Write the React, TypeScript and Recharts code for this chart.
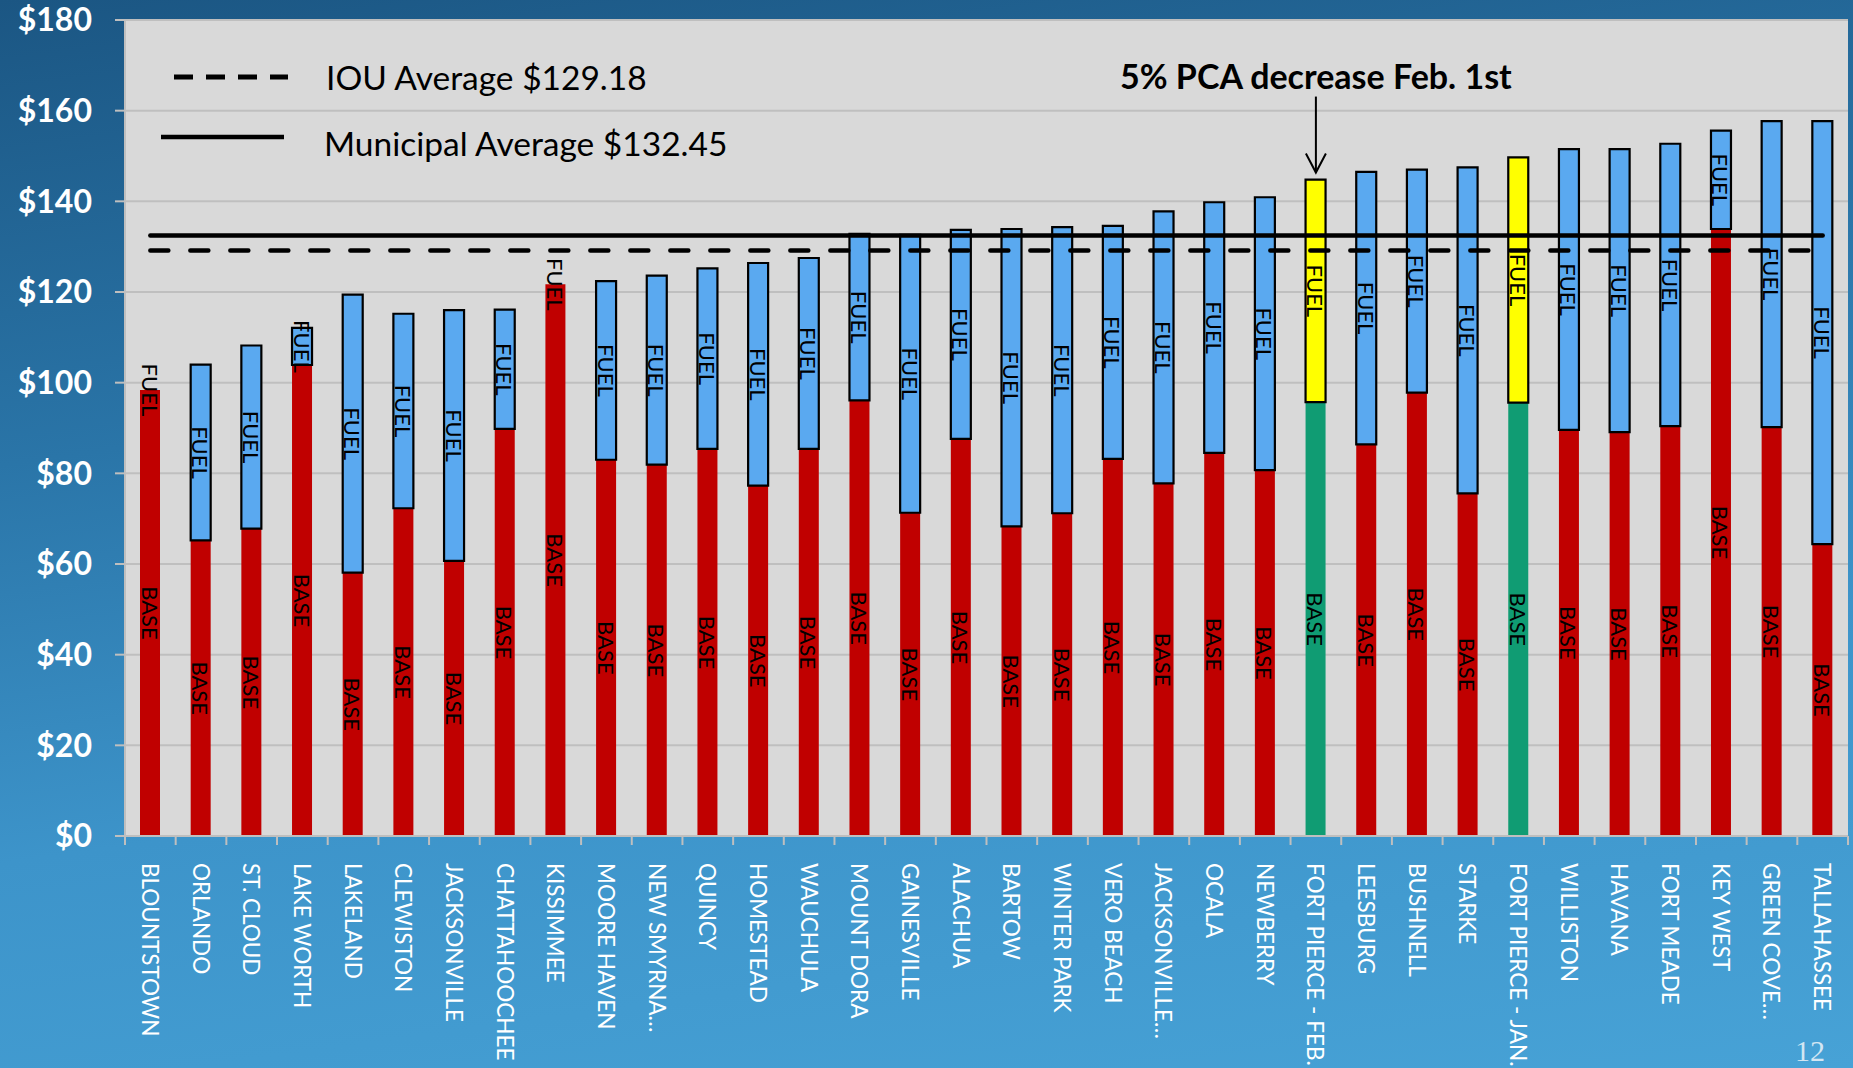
import React from "react";
import {
  ComposedChart,
  Bar,
  Line,
  XAxis,
  YAxis,
  CartesianGrid,
  Cell,
  LabelList,
  ReferenceDot,
} from "recharts";

const CITIES = [
  "BLOUNTSTOWN",
  "ORLANDO",
  "ST. CLOUD",
  "LAKE WORTH",
  "LAKELAND",
  "CLEWISTON",
  "JACKSONVILLE",
  "CHATTAHOOCHEE",
  "KISSIMMEE",
  "MOORE HAVEN",
  "NEW SMYRNA…",
  "QUINCY",
  "HOMESTEAD",
  "WAUCHULA",
  "MOUNT DORA",
  "GAINESVILLE",
  "ALACHUA",
  "BARTOW",
  "WINTER PARK",
  "VERO BEACH",
  "JACKSONVILLE…",
  "OCALA",
  "NEWBERRY",
  "FORT PIERCE - FEB.",
  "LEESBURG",
  "BUSHNELL",
  "STARKE",
  "FORT PIERCE - JAN.",
  "WILLISTON",
  "HAVANA",
  "FORT MEADE",
  "KEY WEST",
  "GREEN COVE…",
  "TALLAHASSEE",
];

// base charge per city ($)
const BASE = [
  98.4, 65.2, 67.8, 103.9, 58.1, 72.3, 60.7, 89.8, 121.7, 83.0, 81.9, 85.4,
  77.3, 85.4, 96.1, 71.3, 87.6, 68.3, 71.2, 83.2, 77.8, 84.5, 80.7, 95.7, 86.4,
  97.8, 75.6, 95.6, 89.6, 89.1, 90.4, 133.9, 90.2, 64.4,
];

// fuel charge per city ($)
const FUEL = [
  0, 38.8, 40.4, 8.2, 61.3, 42.9, 55.3, 26.3, 0, 39.4, 41.7, 39.8, 49.1, 42.1,
  36.7, 61.3, 46.1, 65.6, 63.1, 51.4, 60.0, 55.3, 60.2, 49.1, 60.1, 49.2, 71.9,
  54.1, 61.9, 62.4, 62.3, 21.7, 67.5, 93.3,
];

const IOU_AVG = 129.18;
const MUNI_AVG = 132.45;
const Y_TICKS = [0, 20, 40, 60, 80, 100, 120, 140, 160, 180];
const HIGHLIGHT = ["FORT PIERCE - FEB.", "FORT PIERCE - JAN."];
const ANNOTATED = "FORT PIERCE - FEB.";

const W = 1853;
const H = 1068;
const MARGIN = { top: 20, right: 5, left: 25, bottom: 0 };
const Y_AXIS_W = 100;
const X_AXIS_H = 232;
const BAND = (W - MARGIN.left - MARGIN.right - Y_AXIS_W) / CITIES.length;

const RED = "#C00000";
const BLUE = "#5AA9F0";
const GREEN = "#109C73";
const YELLOW = "#FFFF00";
const AXIS_GREY = "#BFBFBF";
const FONT = "Lato, 'Open Sans', sans-serif";

const data = CITIES.map((name, i) => ({
  name,
  base: BASE[i],
  fuel: FUEL[i],
  iou: IOU_AVG,
  muni: MUNI_AVG,
}));

const annotatedIdx = CITIES.indexOf(ANNOTATED);
const annotatedTop = BASE[annotatedIdx] + FUEL[annotatedIdx];

const CityTick = (props: any) => {
  const { x, y, payload, index } = props;
  const half = BAND / 2;
  const ty = y + 27;
  return (
    <g>
      <line x1={x - half} x2={x - half} y1={y} y2={y + 9} stroke={AXIS_GREY} strokeWidth={2} />
      {index === CITIES.length - 1 && (
        <line x1={x + half} x2={x + half} y1={y} y2={y + 9} stroke={AXIS_GREY} strokeWidth={2} />
      )}
      <text
        x={x}
        y={ty}
        transform={`rotate(90, ${x}, ${ty})`}
        textAnchor="start"
        dominantBaseline="central"
        fill="#ffffff"
        fontSize={22.5}
        fontFamily={FONT}>
        {payload.value}
      </text>
    </g>
  );
};

const Vert = ({ cx, cy, text }: { cx: number; cy: number; text: string }) => (
  <text
    x={cx}
    y={cy}
    transform={`rotate(90, ${cx}, ${cy})`}
    textAnchor="middle"
    dominantBaseline="central"
    fontSize={22}
    fontFamily={FONT}
    fill="#000">
    {text}
  </text>
);

const BaseLabel = (props: any) => {
  const { x, y, width, height, index } = props;
  const cx = x + width / 2;
  return (
    <g>
      <Vert cx={cx} cy={y + height / 2} text="BASE" />
      {/* fuel segment too thin to carry its own label */}
      {FUEL[index] === 0 && <Vert cx={cx} cy={y} text="FUEL" />}
    </g>
  );
};

const FuelLabel = (props: any) => {
  const { x, y, width, height } = props;
  return <Vert cx={x + width / 2} cy={y + height / 2} text="FUEL" />;
};

const ArrowNote = (props: any) => {
  const { cx, cy } = props;
  const tip = cy - 7;
  return (
    <g>
      <text
        x={cx}
        y={cy - 104}
        textAnchor="middle"
        dominantBaseline="central"
        fontFamily={FONT}
        fontWeight={700}
        fontSize={34}
        fill="#000">
        5% PCA decrease Feb. 1st
      </text>
      <line x1={cx} x2={cx} y1={cy - 83} y2={tip} stroke="#000" strokeWidth={2} />
      <polyline
        points={`${cx - 10},${tip - 19} ${cx},${tip} ${cx + 10},${tip - 19}`}
        fill="none"
        stroke="#000"
        strokeWidth={2}
      />
    </g>
  );
};

export default function App() {
  return (
    <div
      style={{
        position: "absolute",
        left: 0,
        top: 0,
        width: W,
        height: H,
        overflow: "hidden",
        background:
          "linear-gradient(172deg, #1B5683 0%, #2A75A8 35%, #3D94CA 65%, #47A2D6 100%)",
      }}>
      <ComposedChart width={W} height={H} data={data} margin={MARGIN}>
        <CartesianGrid vertical={false} stroke={AXIS_GREY} strokeWidth={2} fill="#D9D9D9" />
        <XAxis
          dataKey="name"
          interval={0}
          height={X_AXIS_H}
          tickLine={false}
          tickSize={0}
          tickMargin={0}
          axisLine={{ stroke: AXIS_GREY, strokeWidth: 2 }}
          tick={<CityTick />}
        />
        <YAxis
          width={Y_AXIS_W}
          domain={[0, 180]}
          ticks={Y_TICKS}
          tickSize={10}
          tickMargin={23}
          axisLine={{ stroke: AXIS_GREY, strokeWidth: 2 }}
          tickLine={{ stroke: AXIS_GREY, strokeWidth: 2 }}
          tickFormatter={(v) => `$${v}`}
          tick={{ fill: "#ffffff", fontSize: 32, fontWeight: 700, fontFamily: FONT }}
        />
        <Bar dataKey="base" stackId="a" barSize={20} isAnimationActive={false}>
          {CITIES.map((c) => (
            <Cell key={`b-${c}`} fill={HIGHLIGHT.includes(c) ? GREEN : RED} />
          ))}
          <LabelList dataKey="base" content={BaseLabel} />
        </Bar>
        <Bar
          dataKey="fuel"
          stackId="a"
          barSize={20}
          stroke="#000"
          strokeWidth={2.2}
          isAnimationActive={false}>
          {CITIES.map((c) => (
            <Cell key={`f-${c}`} fill={HIGHLIGHT.includes(c) ? YELLOW : BLUE} />
          ))}
          <LabelList dataKey="fuel" content={FuelLabel} />
        </Bar>
        <Line
          dataKey="muni"
          stroke="#000"
          strokeWidth={4.5}
          strokeLinecap="round"
          dot={false}
          activeDot={false}
          isAnimationActive={false}
        />
        <Line
          dataKey="iou"
          stroke="#000"
          strokeWidth={4.5}
          strokeLinecap="round"
          strokeDasharray="18 22"
          dot={false}
          activeDot={false}
          isAnimationActive={false}
        />
        <ReferenceDot
          x={ANNOTATED}
          y={annotatedTop}
          r={0}
          ifOverflow="visible"
          shape={ArrowNote}
        />
      </ComposedChart>

      {/* legend */}
      <svg
        width={900}
        height={200}
        style={{ position: "absolute", left: 0, top: 0, pointerEvents: "none" }}>
        <line x1={174} x2={288} y1={77} y2={77} stroke="#000" strokeWidth={5} strokeDasharray="19 13" />
        <text x={326} y={77} dominantBaseline="central" fontFamily={FONT} fontSize={33.5} fill="#000">
          IOU Average $129.18
        </text>
        <line x1={161} x2={284} y1={137} y2={137} stroke="#000" strokeWidth={4.5} />
        <text x={324} y={143} dominantBaseline="central" fontFamily={FONT} fontSize={33.5} fill="#000">
          Municipal Average $132.45
        </text>
      </svg>

      <div
        style={{
          position: "absolute",
          left: 1795,
          top: 1034,
          fontFamily: "'Liberation Serif', serif",
          fontSize: 30,
          color: "#D3E6F3",
        }}>
        12
      </div>
    </div>
  );
}
